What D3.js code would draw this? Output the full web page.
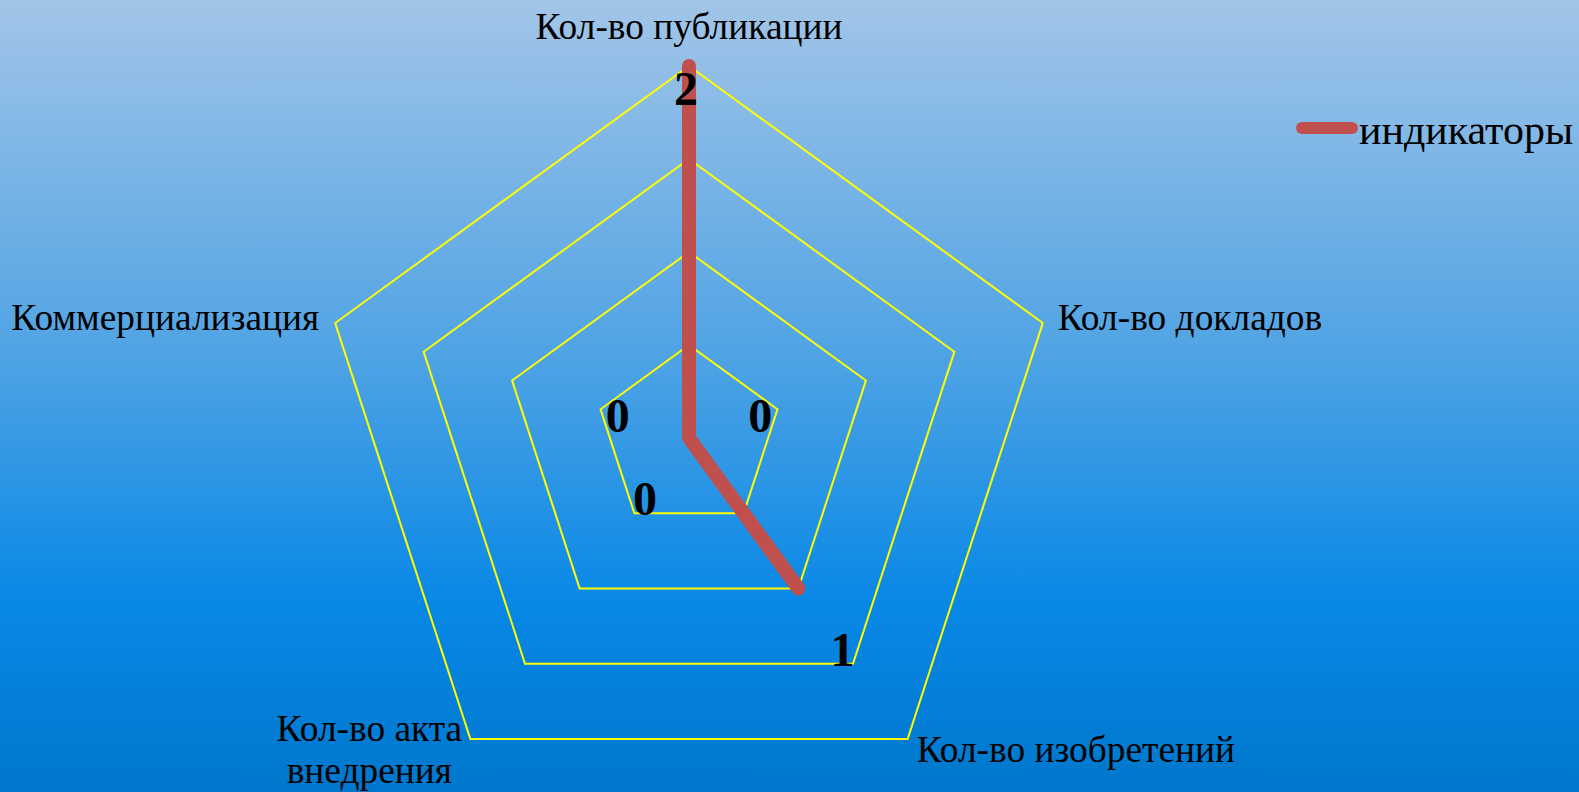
<!DOCTYPE html>
<html>
<head>
<meta charset="utf-8">
<script src="https://cdn.jsdelivr.net/npm/d3@7"></script>
<style>
  html, body { margin: 0; padding: 0; overflow: hidden; }
  svg text { font-family: "Liberation Serif", "Times New Roman", serif; fill: #000; }
</style>
</head>
<body>
<div id="chart"></div>
<script>
// Data
const categories = ["Кол-во публикации", "Кол-во докладов", "Кол-во изобретений", "Кол-во акта\nвнедрения", "Коммерциализация"];
const values = [2, 0, 1, 0, 0];
const gridTicks = [0.5, 1, 1.5, 2];
const seriesName = "индикаторы";

const width = 1579, height = 792;
const center = { x: 689, y: 438 };
const radius = 372;

const svg = d3.select("#chart").append("svg")
    .attr("width", width)
    .attr("height", height);

// background gradient
const defs = svg.append("defs");
const grad = defs.append("linearGradient")
    .attr("id", "bg").attr("x1", 0).attr("y1", 0).attr("x2", 0).attr("y2", 1);
grad.append("stop").attr("offset", "0%").attr("stop-color", "#a2c5e8");
grad.append("stop").attr("offset", "45%").attr("stop-color", "#4fa3e4");
grad.append("stop").attr("offset", "76%").attr("stop-color", "#0888e6");
grad.append("stop").attr("offset", "100%").attr("stop-color", "#0077cc");
svg.append("rect").attr("width", width).attr("height", height).attr("fill", "url(#bg)");

const g = svg.append("g").attr("transform", `translate(${center.x},${center.y})`);

const r = d3.scaleLinear().domain([0, d3.max(gridTicks)]).range([0, radius]);
const angle = d3.scaleLinear().domain([0, categories.length]).range([0, 2 * Math.PI]);

function point(i, v) {
    const a = angle(i);
    return [r(v) * Math.sin(a), -r(v) * Math.cos(a)];
}

// grid pentagons
const gridLine = d3.line().curve(d3.curveLinearClosed);
g.selectAll("path.grid")
    .data(gridTicks)
    .join("path")
    .attr("class", "grid")
    .attr("d", t => gridLine(categories.map((_, i) => point(i, t))))
    .attr("fill", "none")
    .attr("stroke", "#ffff00")
    .attr("stroke-width", 2);

// series line
g.append("path")
    .attr("d", gridLine(values.map((v, i) => point(i, v))))
    .attr("fill", "none")
    .attr("stroke", "#c0504d")
    .attr("stroke-width", 14)
    .attr("stroke-linejoin", "round")
    .attr("stroke-linecap", "round");

// data labels
const labelOffset = 75;
g.selectAll("text.value")
    .data(values)
    .join("text")
    .attr("class", "value")
    .attr("transform", (v, i) => {
        let rr = r(v) + labelOffset;
        if (rr > radius) rr = r(v) - 22;
        const a = angle(i);
        return `translate(${rr * Math.sin(a) - (rr > radius - 30 ? 3 : 0)},${-rr * Math.cos(a)})`;
    })
    .attr("text-anchor", "middle")
    .attr("dy", "0.35em")
    .style("font-size", "48px")
    .style("font-weight", "bold")
    .text(d => d);

// axis labels
const labelPos = [
    { dx: 0, dy: -27, anchor: "middle" },
    { dx: 15, dy: 7, anchor: "start" },
    { dx: 9, dy: 23, anchor: "start" },
    { dx: -101, dy: 2, anchor: "middle" },
    { dx: -16, dy: 7, anchor: "end" }
];
categories.forEach((c, i) => {
    const [x, y] = point(i, d3.max(gridTicks));
    const p = labelPos[i];
    const t = g.append("text")
        .attr("x", x + p.dx)
        .attr("y", y + p.dy)
        .attr("text-anchor", p.anchor)
        .style("font-size", "37.4px");
    c.split("\n").forEach((line, k) => {
        t.append("tspan")
            .attr("x", x + p.dx)
            .attr("dy", k === 0 ? 0 : 42)
            .text(line);
    });
});

// legend
const legend = svg.append("g").attr("transform", "translate(1302,128)");
legend.append("line")
    .attr("x1", 0).attr("x2", 50)
    .attr("stroke", "#c0504d")
    .attr("stroke-width", 12)
    .attr("stroke-linecap", "round");
legend.append("text")
    .attr("x", 57).attr("y", 16)
    .style("font-size", "42px")
    .text(seriesName);
</script>
</body>
</html>
